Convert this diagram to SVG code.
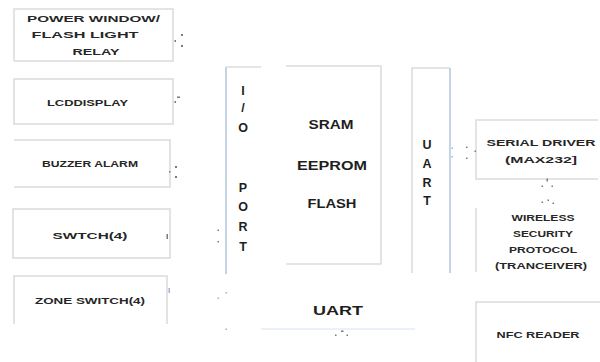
<svg xmlns="http://www.w3.org/2000/svg" width="600" height="362" viewBox="0 0 600 362">
<style>
.bx{fill:none;stroke:#dcdcdc;stroke-width:1.6}
.bl{fill:none;stroke:#b6c9de;stroke-width:1.6}
.t{font-family:"Liberation Sans",Arial,sans-serif;font-weight:bold;font-size:9.5px;fill:#262626;text-anchor:middle;dominant-baseline:central}
.tb{font-family:"Liberation Sans",Arial,sans-serif;font-weight:bold;font-size:12.5px;fill:#1e1e1e;text-anchor:middle;dominant-baseline:central}
.d{fill:#7a7a7a}
.db{fill:#9fb4cc}
</style>
<rect width="600" height="362" fill="#ffffff"/>

<g id="power-window">
<path class="bx" d="M14,61 V9 H173 V61 H14"/>
<text class="t" x="93.5" y="18" textLength="133" lengthAdjust="spacingAndGlyphs">POWER WINDOW/</text>
<text class="t" x="85" y="34" textLength="107" lengthAdjust="spacingAndGlyphs">FLASH LIGHT</text>
<text class="t" x="96" y="51" textLength="47" lengthAdjust="spacingAndGlyphs">RELAY</text>
</g>

<g id="lcd-display">
<rect class="bx" x="14" y="79" width="159" height="45"/>
<text class="t" x="87.5" y="102" font-size="8.5" textLength="81" lengthAdjust="spacingAndGlyphs">LCDDISPLAY</text>
</g>

<g id="buzzer-alarm">
<path class="bx" d="M14,140 H170 V187 H14"/>
<text class="t" x="90" y="163" font-size="9" textLength="96" lengthAdjust="spacingAndGlyphs">BUZZER ALARM</text>
</g>

<g id="switch">
<rect class="bx" x="13" y="209" width="157" height="49"/>
<text class="t" x="90" y="235" textLength="75" lengthAdjust="spacingAndGlyphs">SWTCH(4)</text>
</g>

<g id="zone-switch">
<path class="bx" d="M14,324 V276 H167 V324"/>
<text class="t" x="90" y="300" font-size="9" textLength="110" lengthAdjust="spacingAndGlyphs">ZONE SWITCH(4)</text>
</g>

<g id="io-port">
<path class="bl" d="M226,274 V67"/>
<path class="bx" d="M226,67 H261"/>
<text class="tb" x="243" y="91">I</text>
<text class="tb" x="243" y="108">/</text>
<text class="tb" x="243" y="128">O</text>
<text class="tb" x="243" y="188">P</text>
<text class="tb" x="243" y="207">O</text>
<text class="tb" x="243" y="227">R</text>
<text class="tb" x="243" y="247">T</text>
</g>

<g id="memory">
<path class="bx" d="M286,66 H381 V264 H286"/>
<text class="tb" x="331" y="125" textLength="45" lengthAdjust="spacingAndGlyphs">SRAM</text>
<text class="tb" x="332" y="166" textLength="70" lengthAdjust="spacingAndGlyphs">EEPROM</text>
<text class="tb" x="332" y="204" textLength="49" lengthAdjust="spacingAndGlyphs">FLASH</text>
</g>

<g id="uart-vertical">
<path class="bx" d="M412,273 V68 H450"/>
<path class="bl" d="M450,68 V273"/>
<text class="tb" x="427" y="145" font-size="11">U</text>
<text class="tb" x="427" y="164" font-size="11">A</text>
<text class="tb" x="427" y="183" font-size="11">R</text>
<text class="tb" x="427" y="201" font-size="11" font-weight="normal" fill="#555">T</text>
</g>

<g id="serial-driver">
<path class="bx" d="M598,120 H476 V179 H598"/>
<text class="t" x="541" y="142" textLength="109" lengthAdjust="spacingAndGlyphs">SERIAL DRIVER</text>
<text class="t" x="541" y="159" textLength="72" lengthAdjust="spacingAndGlyphs">(MAX232]</text>
</g>

<g id="wireless">
<path class="bx" d="M476,208 V272"/>
<text class="t" x="543" y="217" font-size="8.5" textLength="63" lengthAdjust="spacingAndGlyphs">WIRELESS</text>
<text class="t" x="543" y="233" font-size="8.5" textLength="60" lengthAdjust="spacingAndGlyphs">SECURITY</text>
<text class="t" x="543" y="249" font-size="8.5" textLength="68" lengthAdjust="spacingAndGlyphs">PROTOCOL</text>
<text class="t" x="541" y="265" font-size="8.5" textLength="92" lengthAdjust="spacingAndGlyphs">(TRANCEIVER)</text>
</g>

<g id="uart-bottom">
<path d="M261,329 H415" fill="none" stroke="#e3edf7" stroke-width="1.6"/>
<text class="tb" x="338" y="311" textLength="50" lengthAdjust="spacingAndGlyphs">UART</text>
</g>

<g id="nfc-reader">
<path class="bx" d="M476,362 V302 H600"/>
<text class="t" x="538" y="334" textLength="83" lengthAdjust="spacingAndGlyphs">NFC READER</text>
</g>

<g id="connectors">
<rect class="d" x="174.5" y="40" width="1.5" height="2"/>
<rect class="d" x="181" y="34" width="2" height="2"/>
<rect class="d" x="181" y="45" width="2" height="2"/>
<rect class="d" x="174.5" y="101" width="1.5" height="2"/>
<rect class="d" x="177" y="96.5" width="3" height="1.5"/>
<rect class="d" x="169" y="171" width="1.5" height="1.5"/>
<rect class="d" x="175" y="166" width="2" height="2"/>
<rect class="d" x="175" y="176" width="2" height="2"/>
<rect class="d" x="166.5" y="234" width="1.5" height="5"/>
<rect class="db" x="168.5" y="288" width="1.5" height="5"/>
<rect class="d" x="217.5" y="229.5" width="1.5" height="1.5"/>
<rect class="d" x="217.5" y="241" width="1.5" height="1.5"/>
<rect class="db" x="225.5" y="292" width="1.5" height="1.5"/>
<rect class="db" x="217.5" y="297.5" width="1.5" height="1.5"/>
<rect class="db" x="225.5" y="328.5" width="1.5" height="1.5"/>
<rect class="d" x="335" y="334.5" width="1.5" height="1.5"/>
<rect class="d" x="341" y="330.5" width="2.5" height="1.5"/>
<rect class="d" x="346.5" y="334.5" width="1.5" height="1.5"/>
<rect class="db" x="451.5" y="147.5" width="1.5" height="1.5"/>
<rect class="db" x="451.5" y="156" width="1.5" height="1.5"/>
<rect class="d" x="466" y="146.5" width="1.5" height="1.5"/>
<rect class="d" x="466" y="157.5" width="1.5" height="1.5"/>
<rect class="d" x="474.5" y="150.5" width="1.5" height="1.5"/>
<rect class="d" x="546.5" y="178.5" width="1.5" height="3"/>
<rect class="d" x="541.5" y="185.5" width="1.5" height="1.5"/>
<rect class="d" x="551.5" y="185.5" width="1.5" height="1.5"/>
<rect class="d" x="541.5" y="201.5" width="1.5" height="1.5"/>
<rect class="d" x="547.5" y="199.5" width="1.5" height="1.5"/>
<rect class="d" x="552.5" y="202.5" width="1.5" height="1.5"/>
</g>
</svg>
